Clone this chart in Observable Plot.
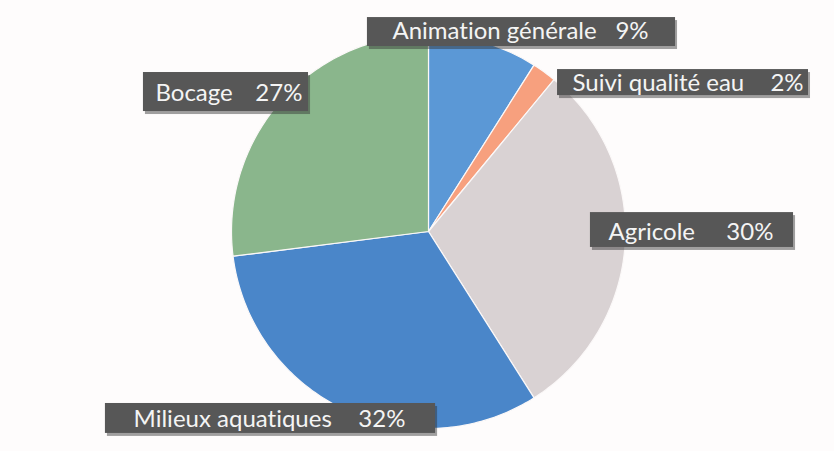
<!DOCTYPE html>
<html>
<head>
<meta charset="utf-8">
<script src="https://cdn.jsdelivr.net/npm/d3@7"></script>
<script src="https://cdn.jsdelivr.net/npm/@observablehq/plot@0.6"></script>
<style>
  html, body { margin: 0; padding: 0; background: #fefcfc; }
  #chart svg { display: block; }
  #chart svg text { font-variant-ligatures: none; font-feature-settings: "liga" 0, "clig" 0; }
</style>
</head>
<body>
<div id="chart"></div>
<script>
// ---- data ----
const categories = ["Animation générale", "Suivi qualité eau", "Agricole", "Milieux aquatiques", "Bocage"];
const shares = [9, 2, 30, 32, 27];
const percentLabels = ["9%", "2%", "30%", "32%", "27%"];
const sliceColors = ["#5b98d6", "#f7a07e", "#d9d2d3", "#4a86c9", "#8ab68c"];

// ---- label layout (in pie-radius units, centre = 0,0) ----
const labelBoxX1 = [-0.310, 0.655, 0.822, -1.640, -1.447];
const labelBoxX2 = [1.254, 1.929, 1.853, 0.036, -0.609];
const labelBoxY1 = [1.086, 0.822, 0.096, -0.873, 0.807];
const labelBoxY2 = [0.939, 0.690, -0.081, -1.025, 0.609];
const labelTextX1 = [-0.183, 0.731, 0.914, -1.497, -1.386];
const labelTextX2 = [1.117, 1.904, 1.751, -0.117, -0.640];
const labelTextY = [1.015, 0.751, -0.002, -0.955, 0.701];

// ---- build slices with d3.pie (clockwise from 12 o'clock) ----
const pie = d3.pie().sort(null).value(d => d.value);
const arcs = pie(categories.map((c, i) => ({category: c, value: shares[i]})));
const slicePoints = [];
for (const a of arcs) {
  slicePoints.push({category: a.data.category, x: 0, y: 0});
  const n = Math.max(2, Math.ceil((a.endAngle - a.startAngle) / (Math.PI / 180)));
  for (let k = 0; k <= n; k++) {
    const t = a.startAngle + (a.endAngle - a.startAngle) * k / n;
    slicePoints.push({category: a.data.category, x: Math.sin(t), y: Math.cos(t)});
  }
}

const labels = categories.map((c, i) => ({
  category: c, pct: percentLabels[i],
  bx1: labelBoxX1[i], bx2: labelBoxX2[i], by1: labelBoxY1[i], by2: labelBoxY2[i],
  tx1: labelTextX1[i], tx2: labelTextX2[i], ty: labelTextY[i]
}));

const font = "Lato, 'Open Sans', sans-serif";

const chart = Plot.plot({
  width: 834,
  height: 451,
  margin: 0,
  style: {background: "#fefcfc", fontFamily: font},
  x: {domain: [-1, 1], range: [231, 625], axis: null},
  y: {domain: [-1, 1], range: [428, 34], axis: null},
  color: {domain: categories, range: sliceColors, type: "ordinal"},
  marks: [
    Plot.line(slicePoints, {
      x: "x", y: "y", z: "category", fill: "category",
      stroke: "#fbf8f8", strokeWidth: 1.2, curve: "linear-closed"
    }),
    // label box shadows
    Plot.rect(labels, {
      x1: "bx1", x2: "bx2", y1: "by1", y2: "by2",
      fill: "#2e2e2e", fillOpacity: 0.45, dx: 2, dy: 3
    }),
    Plot.rect(labels, {
      x1: "bx1", x2: "bx2", y1: "by1", y2: "by2",
      fill: "#575757"
    }),
    Plot.text(labels, {
      x: "tx1", y: "ty", text: "category", textAnchor: "start",
      fill: "#f4f4f4", fontSize: 24, fontFamily: font
    }),
    Plot.text(labels, {
      x: "tx2", y: "ty", text: "pct", textAnchor: "end",
      fill: "#f4f4f4", fontSize: 24, fontFamily: font
    })
  ]
});
document.getElementById("chart").appendChild(chart);
</script>
</body>
</html>
